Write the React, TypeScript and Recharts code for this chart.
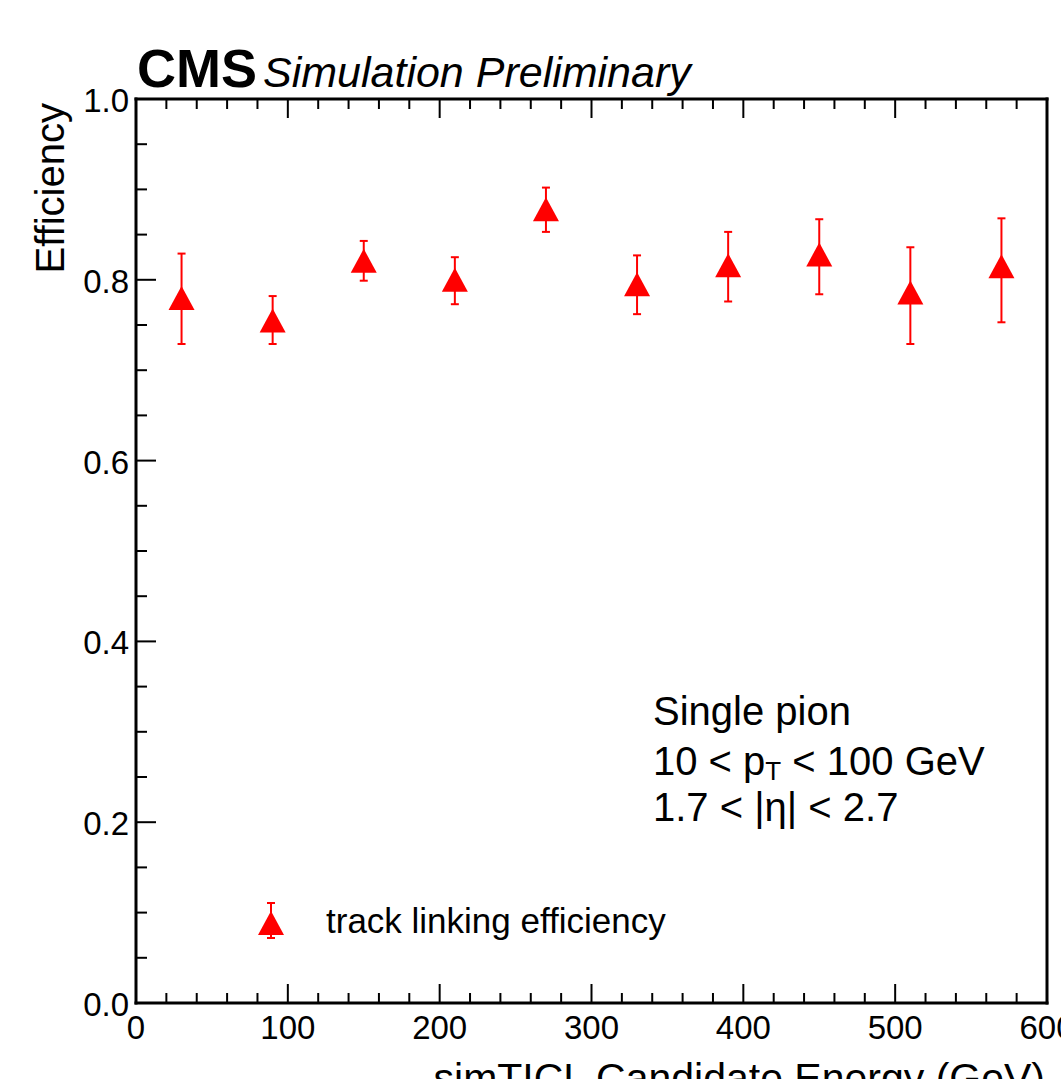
import { ComposedChart, ErrorBar, Legend, Scatter, XAxis, YAxis } from "recharts";

// bin centres (GeV) and efficiency with asymmetric errors
const energy = [30, 90, 150, 210, 270, 330, 390, 450, 510, 570];
const efficiency = [0.78, 0.755, 0.821, 0.8, 0.878, 0.795, 0.816, 0.828, 0.786, 0.815];
const errLow = [0.051, 0.026, 0.022, 0.027, 0.025, 0.033, 0.04, 0.044, 0.057, 0.062];
const errHigh = [0.049, 0.027, 0.022, 0.025, 0.024, 0.032, 0.037, 0.039, 0.05, 0.053];

const xMajor = [0, 100, 200, 300, 400, 500, 600];
const xTicks = [
  0, 20, 40, 60, 80, 100, 120, 140, 160, 180, 200, 220, 240, 260, 280, 300, 320,
  340, 360, 380, 400, 420, 440, 460, 480, 500, 520, 540, 560, 580, 600,
];
const yMajor = [0, 0.2, 0.4, 0.6, 0.8, 1.0];
const yTicks = [
  0, 0.05, 0.1, 0.15, 0.2, 0.25, 0.3, 0.35, 0.4, 0.45, 0.5, 0.55, 0.6, 0.65, 0.7,
  0.75, 0.8, 0.85, 0.9, 0.95, 1.0,
];

const RED = "#ff0000";
const FONT = '"Liberation Sans", Arial, Helvetica, sans-serif';

const points = energy.map((x, i) => ({
  x,
  y: efficiency[i],
  err: [errLow[i], errHigh[i]],
}));

function Triangle(props: any) {
  const { cx, cy } = props;
  if (cx == null || cy == null) return null;
  return (
    <polygon
      points={`${cx - 13},${cy + 12} ${cx + 13},${cy + 12} ${cx},${cy - 12}`}
      fill={RED}
    />
  );
}

// ROOT-style inward ticks on all four sides
function makeTick(side: "bottom" | "top" | "left" | "right") {
  return function Tick(props: any) {
    const { x, y, payload } = props;
    const v = payload.value;
    if (side === "bottom" || side === "top") {
      const major = xMajor.includes(v);
      const len = major ? 19 : 10;
      const dir = side === "bottom" ? -1 : 1;
      return (
        <g>
          <line x1={x} y1={y} x2={x} y2={y + dir * len} stroke="#000" strokeWidth={2} />
          {side === "bottom" && major && (
            <text x={x} y={y + 36} textAnchor="middle" fontSize={33} fontFamily={FONT} fill="#000">
              {v}
            </text>
          )}
        </g>
      );
    }
    const major = yMajor.includes(v);
    const len = major ? 20 : 11;
    const dir = side === "left" ? 1 : -1;
    return (
      <g>
        <line x1={x} y1={y} x2={x + dir * len} y2={y} stroke="#000" strokeWidth={2} />
        {side === "left" && major && (
          <text x={x - 7} y={y + 13} textAnchor="end" fontSize={33} fontFamily={FONT} fill="#000">
            {v.toFixed(1)}
          </text>
        )}
      </g>
    );
  };
}

function LegendBox(props: any) {
  const name = props.payload?.[0]?.value ?? "track linking efficiency";
  return (
    <svg width={480} height={60}>
      <line x1={31} y1={13} x2={31} y2={48} stroke={RED} strokeWidth={2} />
      <line x1={27} y1={13} x2={35} y2={13} stroke={RED} strokeWidth={2} />
      <line x1={27} y1={48} x2={35} y2={48} stroke={RED} strokeWidth={2} />
      <polygon points="18,45 44,45 31,21" fill={RED} />
      <text x={86} y={43} fontSize={35} fontFamily={FONT} fill="#000">
        {name}
      </text>
    </svg>
  );
}

const axisLine = { stroke: "#000", strokeWidth: 3, strokeLinecap: "square" as const };

export default function App() {
  return (
    <div style={{ position: "absolute", left: 0, top: 0, width: 1061, height: 1079, overflow: "hidden", background: "#fff" }}>
      <ComposedChart
        width={1061}
        height={1079}
        data={points}
        margin={{ top: 98, right: 0, bottom: 0, left: 0 }}
      >
        <XAxis
          dataKey="x"
          type="number"
          domain={[0, 600]}
          ticks={xTicks}
          interval={0}
          height={76}
          tickSize={0}
          tickMargin={0}
          tickLine={false}
          axisLine={axisLine}
          tick={makeTick("bottom")}
        />
        <XAxis
          xAxisId="top"
          orientation="top"
          dataKey="x"
          type="number"
          domain={[0, 600]}
          ticks={xTicks}
          interval={0}
          height={1}
          tickSize={0}
          tickMargin={0}
          tickLine={false}
          axisLine={axisLine}
          tick={makeTick("top")}
        />
        <YAxis
          type="number"
          domain={[0, 1]}
          ticks={yTicks}
          interval={0}
          width={136}
          tickSize={0}
          tickMargin={0}
          tickLine={false}
          axisLine={axisLine}
          tick={makeTick("left")}
        />
        <YAxis
          yAxisId="right"
          orientation="right"
          type="number"
          domain={[0, 1]}
          ticks={yTicks}
          interval={0}
          width={14}
          tickSize={0}
          tickMargin={0}
          tickLine={false}
          axisLine={axisLine}
          tick={makeTick("right")}
        />
        <Legend
          layout="horizontal"
          align="center"
          verticalAlign="middle"
          content={<LegendBox />}
          wrapperStyle={{ left: 240, top: 890, width: 480, height: 60 }}
        />
        <Scatter
          name="track linking efficiency"
          data={points}
          dataKey="y"
          shape={<Triangle />}
          fill={RED}
          isAnimationActive={false}
        >
          <ErrorBar
            dataKey="err"
            direction="y"
            width={4}
            stroke={RED}
            strokeWidth={2}
            isAnimationActive={false}
          />
        </Scatter>
      </ComposedChart>
      <svg
        width={1061}
        height={1079}
        style={{ position: "absolute", left: 0, top: 0, pointerEvents: "none" }}
      >
        <g fontFamily={FONT} fill="#000">
          <text x={137} y={87} fontSize={54} fontWeight="bold">CMS</text>
          <text x={263} y={87} fontSize={43} fontStyle="italic">Simulation Preliminary</text>
          <text transform="translate(64,103) rotate(-90)" textAnchor="end" fontSize={40}>
            Efficiency
          </text>
          <text x={1045} y={1092} textAnchor="end" fontSize={41}>
            simTICL Candidate Energy (GeV)
          </text>
          <text x={653} y={725} fontSize={40}>Single pion</text>
          <text x={653} y={775} fontSize={40}>
            <tspan>10 &lt; p</tspan>
            <tspan fontSize={26} dy={5}>T</tspan>
            <tspan dy={-5}> &lt; 100 GeV</tspan>
          </text>
          <text x={653} y={821} fontSize={40}>1.7 &lt; |η| &lt; 2.7</text>
        </g>
      </svg>
    </div>
  );
}
